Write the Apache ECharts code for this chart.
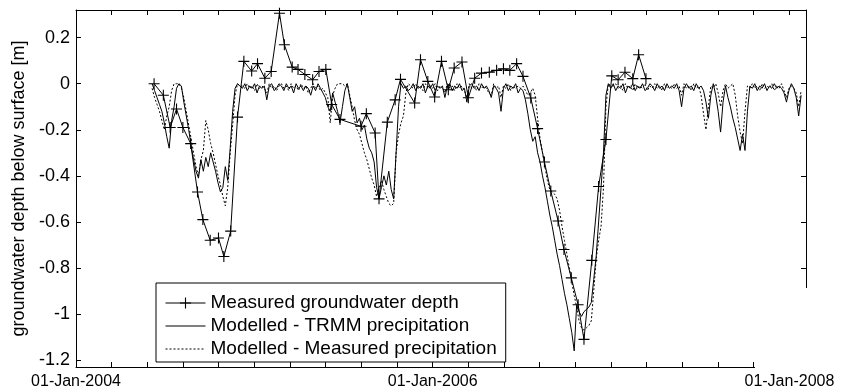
<!DOCTYPE html>
<html>
<head>
<meta charset="utf-8">
<script src="https://cdn.jsdelivr.net/npm/echarts@6/dist/echarts.min.js"></script>
<style>
  html, body { margin: 0; padding: 0; background: #fff; }
  #chart { width: 845px; height: 392px; }
</style>
</head>
<body>
<div id="chart"></div>
<script>
// ---------------- DATA ----------------
const seriesNames = [
  'Measured groundwater depth',
  'Modelled - TRMM precipitation',
  'Modelled - Measured precipitation'
];

// Measured groundwater depth (points with + markers)
const measuredDates = [
  '2004-06-09','2004-06-28','2004-07-12','2004-07-25','2004-08-07','2004-08-23','2004-09-06','2004-09-17',
  '2004-10-02','2004-10-19','2004-10-30','2004-11-13','2004-11-27','2004-12-10','2004-12-26','2005-01-07',
  '2005-01-22','2005-02-04','2005-02-21','2005-03-03','2005-03-19','2005-03-31','2005-04-14','2005-04-30',
  '2005-05-13','2005-05-27','2005-06-08','2005-06-25','2005-08-07','2005-08-18','2005-09-05','2005-09-13',
  '2005-09-30','2005-10-16','2005-10-27','2005-11-25','2005-12-07','2005-12-22','2006-01-05','2006-01-19',
  '2006-02-02','2006-02-14','2006-03-02','2006-03-15','2006-03-28','2006-04-11','2006-04-27','2006-05-12',
  '2006-05-26','2006-06-08','2006-06-22','2006-07-05','2006-07-21','2006-08-04','2006-08-18','2006-08-31',
  '2006-09-15','2006-09-27','2006-10-12','2006-10-26','2006-11-07','2006-11-23','2006-12-07','2006-12-22',
  '2007-01-03','2007-01-16','2007-01-30','2007-02-15','2007-02-27','2007-03-14'
];
const measuredDepth = [
  0.0, -0.05, -0.19, -0.11, -0.19, -0.26, -0.47, -0.59,
  -0.68, -0.67, -0.75, -0.64, -0.145, 0.097, 0.055, 0.087,
  0.024, 0.053, 0.306, 0.169, 0.072, 0.062, 0.040, 0.017,
  0.053, 0.062, -0.09, -0.155, -0.185, -0.13, -0.214, -0.50,
  -0.167, -0.07, 0.019, -0.084, 0.104, 0.01, -0.058, 0.097,
  -0.026, 0.068, 0.094, -0.061, 0.024, 0.046, 0.05, 0.058,
  0.065, 0.058, 0.087, 0.032, -0.062, -0.195, -0.34, -0.466,
  -0.596, -0.72, -0.843, -0.96, -1.11, -0.767, -0.446, -0.242,
  0.034, 0.017, 0.05, 0.022, 0.126, 0.022
];

// Modelled series: one value every 5 days starting at modelStart
const modelStart = '2004-06-05';
const modelStepDays = 5;
const trmmModel = [
  0, -0.03, -0.06, -0.09, -0.12, -0.17, -0.23, -0.28, -0.16, -0.1,
  -0.02, 0, -0.01, -0.08, -0.14, -0.2, -0.27, -0.33, -0.38, -0.41,
  -0.33, -0.38, -0.32, -0.36, -0.3, -0.34, -0.38, -0.43, -0.47, -0.45,
  -0.36, -0.42, -0.28, -0.12, -0.02, 0, -0.01, -0.02, 0, -0.03,
  -0.01, -0.02, 0, -0.04, -0.01, -0.02, -0.01, -0.07, -0.01, 0,
  -0.03, -0.02, 0, -0.01, -0.03, 0, -0.02, -0.01, -0.04, 0,
  -0.02, -0.01, -0.03, -0.01, -0.02, -0.05, -0.01, -0.03, 0, -0.02,
  -0.04, -0.06, -0.1, -0.12, -0.04, -0.08, -0.12, -0.17, -0.1, -0.03,
  0, -0.06, -0.12, -0.1, -0.17, -0.15, -0.2, -0.18, -0.24, -0.28,
  -0.3, -0.34, -0.45, -0.5, -0.45, -0.4, -0.44, -0.38, -0.46, -0.5,
  -0.3, -0.1, 0, -0.02, -0.01, -0.03, -0.02, 0, -0.03, -0.01,
  -0.02, 0, -0.04, -0.01, -0.02, 0, -0.03, -0.01, -0.02, -0.01,
  -0.06, -0.01, 0, -0.03, -0.01, -0.02, 0, -0.03, -0.02, -0.08,
  -0.01, 0, -0.02, -0.01, -0.03, 0, -0.02, -0.01, -0.03, -0.06,
  -0.01, -0.02, -0.04, -0.12, -0.02, 0, -0.03, -0.01, -0.02, 0,
  -0.04, -0.02, -0.03, -0.07, -0.13, -0.2, -0.25, -0.23, -0.3, -0.34,
  -0.4, -0.45, -0.51, -0.57, -0.62, -0.68, -0.74, -0.79, -0.85, -0.91,
  -0.96, -1.02, -1.08, -1.16, -0.96, -0.99, -1.01, -0.99, -0.98, -0.97,
  -0.95, -0.85, -0.75, -0.6, -0.45, -0.3, -0.05, 0, -0.02, 0,
  -0.03, -0.01, -0.02, 0, -0.04, -0.01, -0.02, 0, -0.03, -0.01,
  -0.02, 0, -0.03, -0.02, 0, -0.01, -0.03, 0, -0.02, -0.01,
  -0.03, 0, -0.02, -0.01, -0.02, 0, -0.03, -0.1, -0.02, 0,
  -0.02, -0.01, -0.03, 0, -0.02, -0.01, -0.03, -0.08, -0.15, -0.05,
  0, -0.05, -0.12, -0.21, -0.08, -0.01, -0.06, -0.1, -0.15, -0.19,
  -0.24, -0.29, -0.22, -0.29, -0.12, -0.01, -0.02, 0, -0.03, -0.01,
  -0.02, 0, -0.03, -0.01, -0.02, 0, -0.02, -0.01, -0.02, -0.04,
  -0.08, -0.03, 0, -0.02, -0.06, -0.14, -0.05
];
const measPrecipModel = [
  -0.02, -0.06, -0.09, -0.12, -0.16, -0.2, -0.14, -0.1, -0.03, 0,
  0, 0, -0.02, -0.06, -0.12, -0.18, -0.24, -0.3, -0.36, -0.4,
  -0.33, -0.29, -0.16, -0.2, -0.26, -0.3, -0.35, -0.4, -0.44, -0.49,
  -0.53, -0.45, -0.3, -0.18, -0.05, 0, -0.01, -0.01, -0.02, 0,
  -0.02, -0.01, -0.03, 0, -0.02, -0.01, -0.02, -0.04, 0, -0.02,
  -0.01, -0.03, -0.01, 0, -0.02, -0.01, -0.03, 0, -0.02, -0.01,
  -0.03, 0, -0.02, -0.01, -0.04, -0.02, 0, -0.02, -0.01, -0.03,
  -0.02, -0.04, -0.06, -0.17, -0.05, -0.02, 0, 0, 0, -0.01,
  0, -0.05, -0.1, -0.16, -0.2, -0.22, -0.26, -0.3, -0.33, -0.37,
  -0.41, -0.44, -0.49, -0.45, -0.42, -0.46, -0.49, -0.52, -0.53, -0.52,
  -0.3, -0.22, -0.17, -0.14, -0.04, 0, -0.01, -0.02, 0, -0.02,
  -0.01, -0.03, 0, -0.02, -0.01, -0.02, 0, -0.03, -0.01, -0.02,
  -0.04, 0, -0.02, -0.01, -0.03, 0, -0.02, -0.01, -0.03, -0.06,
  0, -0.02, -0.01, -0.03, 0, -0.02, -0.01, -0.02, -0.04, -0.05,
  0, -0.02, -0.01, -0.06, -0.01, -0.02, 0, -0.03, -0.01, -0.02,
  -0.01, -0.02, -0.01, -0.03, -0.05, -0.04, -0.02, -0.05, -0.15, -0.24,
  -0.3, -0.36, -0.42, -0.46, -0.47, -0.48, -0.5, -0.55, -0.62, -0.68,
  -0.74, -0.8, -0.86, -0.92, -0.97, -1.03, -1.06, -1.07, -1.06, -1.05,
  -1.03, -0.9, -0.76, -0.68, -0.62, -0.45, -0.1, 0, -0.01, -0.01,
  0, -0.02, -0.01, -0.03, 0, -0.02, -0.01, -0.03, 0, -0.02,
  -0.01, -0.02, 0, -0.03, -0.01, -0.02, 0, -0.02, -0.01, -0.03,
  0, -0.02, -0.01, -0.02, 0, -0.02, -0.01, -0.05, 0, -0.02,
  -0.01, -0.03, 0, -0.02, -0.01, -0.05, -0.13, -0.2, -0.1, -0.01,
  -0.02, 0, -0.04, -0.1, -0.03, 0, -0.02, -0.01, 0, -0.05,
  -0.14, -0.21, -0.26, -0.12, -0.01, -0.02, 0, -0.02, -0.01, -0.03,
  0, -0.02, -0.01, -0.02, 0, -0.03, -0.01, -0.02, 0, -0.03,
  -0.06, -0.02, -0.01, -0.02, -0.04, -0.1, -0.03
];

// Axis settings
const xTickDates = ['2004-01-01', '2006-01-01', '2008-01-01'];
const xTickLabels = ['01-Jan-2004', '01-Jan-2006', '01-Jan-2008'];
const xMinDate = '2004-01-01';
const xMaxDate = '2008-02-05';
const xMinorPerLabel = 10;   // ticks between labelled dates
const yMin = -1.23;
const yMax = 0.32;
const yName = 'groundwater depth below surface [m]';

// ---------------- BUILD ----------------
const DAY = 86400000;
const origin = Date.parse(xMinDate);
const dayOf = s => (Date.parse(s) - origin) / DAY;

const measuredData = measuredDates.map((d, i) => [dayOf(d), measuredDepth[i]]);
const startDay = dayOf(modelStart);
const trmmData = trmmModel.map((v, i) => [startDay + i * modelStepDays, v]);
const precipData = measPrecipModel.map((v, i) => [startDay + i * modelStepDays, v]);

const tickInterval = (dayOf(xTickDates[1]) - dayOf(xTickDates[0])) / xMinorPerLabel;
const FONT = 'Liberation Sans, Arial, Helvetica, sans-serif';

function xLabel(v) {
  for (let k = 0; k < xTickDates.length; k++) {
    if (Math.abs(v - dayOf(xTickDates[k])) < 2) return xTickLabels[k];
  }
  return '';
}

const axisLineStyle = { show: true, onZero: false, lineStyle: { color: '#000', width: 1 } };
const tickStyle = { show: true, inside: true, length: 5, lineStyle: { color: '#000', width: 1 } };
const hiddenSymbol = { color: 'rgba(0,0,0,0)', opacity: 0, borderWidth: 0 };

const chart = echarts.init(document.getElementById('chart'), null, { renderer: 'canvas' });
chart.setOption({
  animation: false,
  backgroundColor: '#fff',
  grid: { left: 76, right: 39, top: 10, bottom: 25, containLabel: false },
  xAxis: [
    {
      type: 'value', position: 'bottom', min: 0, max: dayOf(xMaxDate), interval: tickInterval,
      axisLine: axisLineStyle, axisTick: tickStyle, splitLine: { show: false },
      axisLabel: { show: true, formatter: xLabel, margin: 7, fontSize: 16, color: '#000', fontFamily: FONT,
                   showMinLabel: true, showMaxLabel: false, hideOverlap: false }
    },
    {
      type: 'value', position: 'top', min: 0, max: dayOf(xMaxDate), interval: tickInterval,
      axisLine: axisLineStyle, axisTick: tickStyle, splitLine: { show: false },
      axisLabel: { show: false }
    }
  ],
  yAxis: [
    {
      type: 'value', position: 'left', min: yMin, max: yMax, splitNumber: 8,
      axisLine: axisLineStyle, axisTick: tickStyle, splitLine: { show: false },
      axisLabel: { show: true, margin: 6, fontSize: 18, color: '#000', fontFamily: FONT,
                   showMinLabel: false, showMaxLabel: false },
      name: yName, nameLocation: 'middle', nameGap: 48,
      nameTextStyle: { fontSize: 18, color: '#000', fontFamily: FONT }
    },
    {
      type: 'value', position: 'right', min: yMin, max: yMax, splitNumber: 8,
      axisLine: axisLineStyle, axisTick: tickStyle, splitLine: { show: false },
      axisLabel: { show: false }
    }
  ],
  legend: {
    data: [
      { name: seriesNames[0] },
      { name: seriesNames[1], itemStyle: hiddenSymbol },
      { name: seriesNames[2], itemStyle: hiddenSymbol }
    ],
    orient: 'vertical',
    left: 156, top: 283,
    padding: [10, 9, 3, 9],
    itemGap: 3,
    itemWidth: 40,
    itemHeight: 14,
    selectedMode: false,
    backgroundColor: '#fff',
    borderColor: '#000',
    borderWidth: 1,
    borderRadius: 0,
    lineStyle: { width: 1 },
    textStyle: { fontSize: 19, color: '#000', fontFamily: FONT, lineHeight: 20 }
  },
  graphic: [
    { type: 'rect', z: 100, shape: { x: 755, y: 288, width: 60, height: 80 }, style: { fill: '#fff' } }
  ],
  series: [
    {
      name: seriesNames[2], type: 'line', data: precipData, z: 2,
      showSymbol: false, symbol: 'none', smooth: false,
      lineStyle: { color: '#000', width: 1, type: [2, 2] },
      itemStyle: { color: '#000' }
    },
    {
      name: seriesNames[1], type: 'line', data: trmmData, z: 3,
      showSymbol: false, symbol: 'none', smooth: false,
      lineStyle: { color: '#000', width: 1 },
      itemStyle: { color: '#000' }
    },
    {
      name: seriesNames[0], type: 'line', data: measuredData, z: 4,
      symbol: 'path://M4.5,0H5.5V4.5H10V5.5H5.5V10H4.5V5.5H0V4.5H4.5Z',
      symbolSize: 11, showSymbol: true,
      lineStyle: { color: '#000', width: 1 },
      itemStyle: { color: '#000' }
    }
  ]
});
</script>
</body>
</html>
